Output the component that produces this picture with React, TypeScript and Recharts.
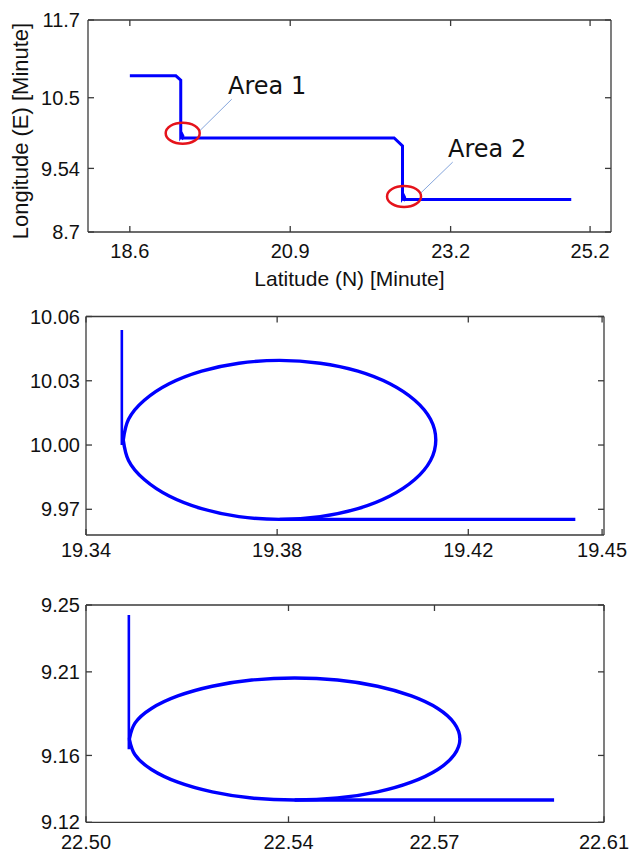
import { Line, LineChart, ReferenceDot, ReferenceLine, XAxis, YAxis } from "recharts";

// overview track
const trackLat = [18.6, 19.26, 19.33, 19.33, 19.35, 19.36, 19.35, 19.33, 19.36, 22.39, 22.51, 22.51, 22.53, 22.54, 22.53, 22.51, 22.54, 24.93];
const trackLon = [10.91, 10.91, 10.85, 10.05, 10.08, 10.06, 10.03, 10.04, 10.03, 10.03, 9.92, 9.18, 9.21, 9.19, 9.16, 9.17, 9.16, 9.16];
const trackXTicks = [18.6, 20.9, 23.2, 25.2];
const trackYTicks = [8.7, 9.6, 10.6, 11.7];
const trackYLabels = ["8.7", "9.54", "10.5", "11.7"];

// marked areas on the overview
const areaNames = ["Area 1", "Area 2"];
const circleLat = [19.358, 22.532];
const circleLon = [10.099, 9.203];
const calloutLat = [[19.592, 20.061], [22.771, 23.23]];
const calloutLon = [[10.122, 10.579], [9.251, 9.689]];
const nameLat = [20.008, 23.163];
const nameLon = [10.65, 9.768];

// close-up of Area 1: entry stem, the loop, exit tail
const area1StemLat = [19.3475, 19.3475];
const area1StemLon = [10.0537, 10.0];
const area1LoopLat = [
  19.3478, 19.3489, 19.3522, 19.3574, 19.3642, 19.372, 19.3805, 19.389, 19.3969, 19.4036, 19.4088, 19.4121,
  19.4132, 19.4121, 19.4088, 19.4036, 19.3969, 19.389, 19.3805, 19.372, 19.3642, 19.3574, 19.3522, 19.3489, 19.3478,
];
const area1LoopLon = [
  10.0024, 9.9928, 9.9839, 9.9762, 9.9703, 9.9666, 9.9653, 9.9666, 9.9703, 9.9762, 9.9839, 9.9928,
  10.0024, 10.012, 10.0209, 10.0286, 10.0345, 10.0382, 10.0395, 10.0382, 10.0345, 10.0286, 10.0209, 10.012, 10.0024,
];
const area1TailLat = [19.3805, 19.4424];
const area1TailLon = [9.9653, 9.9653];
const area1XTicks = [19.34, 19.38, 19.42, 19.448];
const area1YTicks = [9.97, 10.0, 10.03, 10.06];

// close-up of Area 2
const area2StemLat = [22.5091, 22.5091];
const area2StemLon = [9.244, 9.1637];
const area2LoopLat = [
  22.5092, 22.5104, 22.5139, 22.5195, 22.5268, 22.5352, 22.5443, 22.5534, 22.5619, 22.5691, 22.5747, 22.5782,
  22.5794, 22.5782, 22.5747, 22.5691, 22.5619, 22.5534, 22.5443, 22.5352, 22.5268, 22.5195, 22.5139, 22.5104, 22.5092,
];
const area2LoopLon = [
  9.1698, 9.1604, 9.1516, 9.144, 9.1382, 9.1345, 9.1333, 9.1345, 9.1382, 9.144, 9.1516, 9.1604,
  9.1698, 9.1793, 9.1881, 9.1956, 9.2014, 9.2051, 9.2063, 9.2051, 9.2014, 9.1956, 9.1881, 9.1793, 9.1698,
];
const area2TailLat = [22.5443, 22.5994];
const area2TailLon = [9.1333, 9.1333];
const area2XTicks = [22.5, 22.543, 22.574, 22.61];
const area2YTicks = [9.12, 9.16, 9.21, 9.25];

const toRows = (lat: number[], lon: number[]) => lat.map((v, i) => ({ lat: v, lon: lon[i] }));

const FONT = "'Liberation Sans', Arial, sans-serif";
const AXIS = "#3a3a3a";
const tickStyle = { fontSize: 20, fill: "#111", fontFamily: FONT };
const BLUE = "#0000ff";

interface BoxOpts {
  xDomain: [number, number];
  xTicks: number[];
  xFmt: (v: number) => string;
  xHeight: number;
  xGap: number;
  yDomain: [number, number];
  yTicks: number[];
  yFmt: (v: number) => string;
  yGap: number;
  xLabel?: any;
  yLabel?: any;
}

// MATLAB-like box: labelled bottom/left axes, bare top/right axes, ticks pointing inward
function boxAxes(o: BoxOpts) {
  const line = { stroke: AXIS, strokeWidth: 1.3 };
  return [
    <XAxis key="b" xAxisId="b" type="number" dataKey="lat" domain={o.xDomain} ticks={o.xTicks} interval={0}
      allowDataOverflow tickFormatter={o.xFmt} height={o.xHeight} tickSize={-6} tickMargin={o.xGap}
      axisLine={line} tickLine={line} tick={tickStyle} label={o.xLabel} />,
    <XAxis key="t" xAxisId="t" orientation="top" type="number" dataKey="lat" domain={o.xDomain} ticks={o.xTicks}
      interval={0} allowDataOverflow height={1} tickSize={-6} axisLine={line} tickLine={line}
      tickFormatter={() => ""} />,
    <YAxis key="l" yAxisId="l" type="number" dataKey="lon" domain={o.yDomain} ticks={o.yTicks} interval={0}
      allowDataOverflow tickFormatter={o.yFmt} width={60} tickSize={-6} tickMargin={o.yGap}
      axisLine={line} tickLine={line} tick={tickStyle} label={o.yLabel} />,
    <YAxis key="r" yAxisId="r" orientation="right" type="number" dataKey="lon" domain={o.yDomain} ticks={o.yTicks}
      interval={0} allowDataOverflow width={1} tickSize={-6} axisLine={line} tickLine={line}
      tickFormatter={() => ""} />,
  ];
}

function pathLine(key: string, rows: { lat: number; lon: number }[], curve: "linear" | "natural", width: number) {
  return (
    <Line key={key} xAxisId="b" yAxisId="l" data={rows} type={curve} dataKey="lon" stroke={BLUE}
      strokeWidth={width} dot={false} isAnimationActive={false} />
  );
}

export default function App() {
  const track = toRows(trackLat, trackLon);

  return (
    <div style={{ position: "absolute", left: 0, top: 0, width: 632, height: 855, background: "#fff" }}>
      <div style={{ position: "absolute", left: 0, top: 0 }}>
        <LineChart width={632} height={300} data={track} margin={{ top: 19, right: 20, bottom: 0, left: 28 }}>
          {boxAxes({
            xDomain: [18, 25.5],
            xTicks: trackXTicks,
            xFmt: (v) => v.toFixed(1),
            xHeight: 68,
            xGap: 18,
            yDomain: [8.7, 11.7],
            yTicks: trackYTicks,
            yFmt: (v) => trackYLabels[trackYTicks.indexOf(v)],
            yGap: 14,
            xLabel: {
              value: "Latitude (N) [Minute]",
              position: "insideBottom",
              offset: 14,
              fontSize: 21,
              fill: "#111",
              fontFamily: FONT,
            },
            yLabel: {
              value: "Longitude (E) [Minute]",
              position: "left",
              angle: -90,
              offset: 8,
              dy: 5,
              fontSize: 22,
              fill: "#111",
              fontFamily: FONT,
              style: { textAnchor: "middle" },
            },
          })}
          <Line xAxisId="b" yAxisId="l" type="linear" dataKey="lon" stroke={BLUE} strokeWidth={3} dot={false}
            isAnimationActive={false} />
          {areaNames.map((name, i) => (
            <ReferenceLine key={`c${i}`} xAxisId="b" yAxisId="l" stroke="#86a6dc" strokeWidth={1}
              segment={[{ x: calloutLat[i][0], y: calloutLon[i][0] }, { x: calloutLat[i][1], y: calloutLon[i][1] }]} />
          ))}
          {areaNames.map((name, i) => (
            <ReferenceDot key={`e${i}`} xAxisId="b" yAxisId="l" x={circleLat[i]} y={circleLon[i]}
              shape={(p: any) => (
                <ellipse cx={p.cx} cy={p.cy} rx={17} ry={10.5} fill="none" stroke="#e5131b" strokeWidth={2.5} />
              )} />
          ))}
          {areaNames.map((name, i) => (
            <ReferenceDot key={`n${i}`} xAxisId="b" yAxisId="l" x={nameLat[i]} y={nameLon[i]}
              shape={(p: any) => (
                <text x={p.cx} y={p.cy} fontSize={24} fill="#111" fontFamily="'DejaVu Sans', Verdana, sans-serif">
                  {name}
                </text>
              )} />
          ))}
        </LineChart>
      </div>

      <div style={{ position: "absolute", left: 0, top: 296 }}>
        <LineChart width={632} height={274} margin={{ top: 19.5, right: 27, bottom: 0, left: 26 }}>
          {boxAxes({
            xDomain: [19.34, 19.4484],
            xTicks: area1XTicks,
            xFmt: (v) => v.toFixed(2),
            xHeight: 35,
            xGap: 14,
            yDomain: [9.958, 10.06],
            yTicks: area1YTicks,
            yFmt: (v) => v.toFixed(2),
            yGap: 12,
          })}
          {pathLine("stem", toRows(area1StemLat, area1StemLon), "linear", 2.6)}
          {pathLine("loop", toRows(area1LoopLat, area1LoopLon), "natural", 3.4)}
          {pathLine("tail", toRows(area1TailLat, area1TailLon), "linear", 3.4)}
        </LineChart>
      </div>

      <div style={{ position: "absolute", left: 0, top: 570 }}>
        <LineChart width={632} height={285} margin={{ top: 34, right: 27, bottom: 0, left: 26 }}>
          {boxAxes({
            xDomain: [22.5, 22.61],
            xTicks: area2XTicks,
            xFmt: (v) => v.toFixed(2),
            xHeight: 32.7,
            xGap: 18.5,
            yDomain: [9.12, 9.25],
            yTicks: area2YTicks,
            yFmt: (v) => v.toFixed(2),
            yGap: 12,
          })}
          {pathLine("stem", toRows(area2StemLat, area2StemLon), "linear", 2.6)}
          {pathLine("loop", toRows(area2LoopLat, area2LoopLon), "natural", 3.4)}
          {pathLine("tail", toRows(area2TailLat, area2TailLon), "linear", 3.4)}
        </LineChart>
      </div>
    </div>
  );
}
